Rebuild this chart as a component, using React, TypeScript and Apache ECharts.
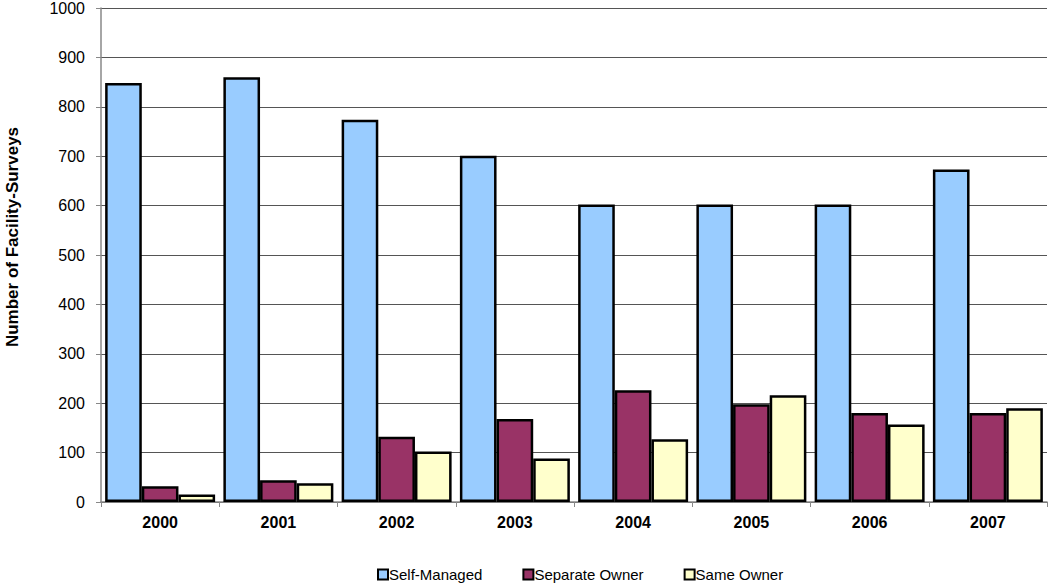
import React, { useEffect, useRef } from "react";
import * as echarts from "echarts";

const years = ["2000", "2001", "2002", "2003", "2004", "2005", "2006", "2007"];
const selfManaged = [848, 860, 774, 701, 602, 602, 602, 673];
const separateOwner = [32, 44, 132, 168, 226, 198, 180, 180];
const sameOwner = [15, 38, 102, 88, 127, 216, 157, 190];
const yTicks = { min: 0, max: 1000, interval: 100 };
const yTitle = "Number of Facility-Surveys";

export default function App() {
  const ref = useRef<HTMLDivElement>(null);
  useEffect(() => {
    const chart = echarts.init(ref.current!, null, { renderer: "svg" });
    const font = "Arial, 'Liberation Sans', sans-serif";
    const mk = (name: string, data: number[], color: string) => ({
      name,
      type: "bar",
      data,
      barGap: "0%",
      barCategoryGap: "7%",
      itemStyle: { color, borderColor: "#000", borderWidth: 2.5 },
    });
    chart.setOption({
      animation: false,
      backgroundColor: "#fff",
      textStyle: { fontFamily: font },
      grid: { left: 101, right: 3, top: 7, bottom: 82 },
      legend: {
        left: 377,
        top: 567,
        padding: 0,
        itemWidth: 10,
        itemHeight: 10,
        itemGap: 40,
        icon: "rect",
        textStyle: { fontSize: 15, color: "#000", fontFamily: font, padding: [0, 0, 0, -4] },
        itemStyle: { borderColor: "#000", borderWidth: 2 },
        data: ["Self-Managed", "Separate Owner", "Same Owner"],
      },
      graphic: [
        {
          type: "text",
          x: 12,
          y: 237,
          rotation: Math.PI / 2,
          style: {
            text: yTitle,
            font: "bold 17px Arial, 'Liberation Sans', sans-serif",
            fill: "#000",
            align: "center",
            verticalAlign: "middle",
          },
        },
      ],
      xAxis: {
        type: "category",
        data: years,
        axisLine: { lineStyle: { color: "#888", width: 1.5 } },
        axisTick: { show: true, length: 5, lineStyle: { color: "#888" } },
        axisLabel: { fontSize: 16, fontWeight: "bold", color: "#000", margin: 12, fontFamily: font },
      },
      yAxis: {
        type: "value",
        min: yTicks.min,
        max: yTicks.max,
        interval: yTicks.interval,
        axisLine: { show: true, lineStyle: { color: "#888", width: 1.5 } },
        axisTick: { show: true, length: 5, lineStyle: { color: "#888" } },
        axisLabel: {
          fontSize: 16,
          color: "#000",
          margin: 16,
          fontFamily: font,
          formatter: (v: number) => String(v),
        },
        splitLine: { lineStyle: { color: "#555", width: 1 } },
      },
      series: [
        mk("Self-Managed", selfManaged, "#99CCFF"),
        mk("Separate Owner", separateOwner, "#993366"),
        mk("Same Owner", sameOwner, "#FFFFCC"),
      ],
    });
    return () => chart.dispose();
  }, []);
  return (
    <div
      ref={ref}
      style={{ position: "absolute", left: 0, top: 0, width: 1050, height: 584 }}
    />
  );
}
